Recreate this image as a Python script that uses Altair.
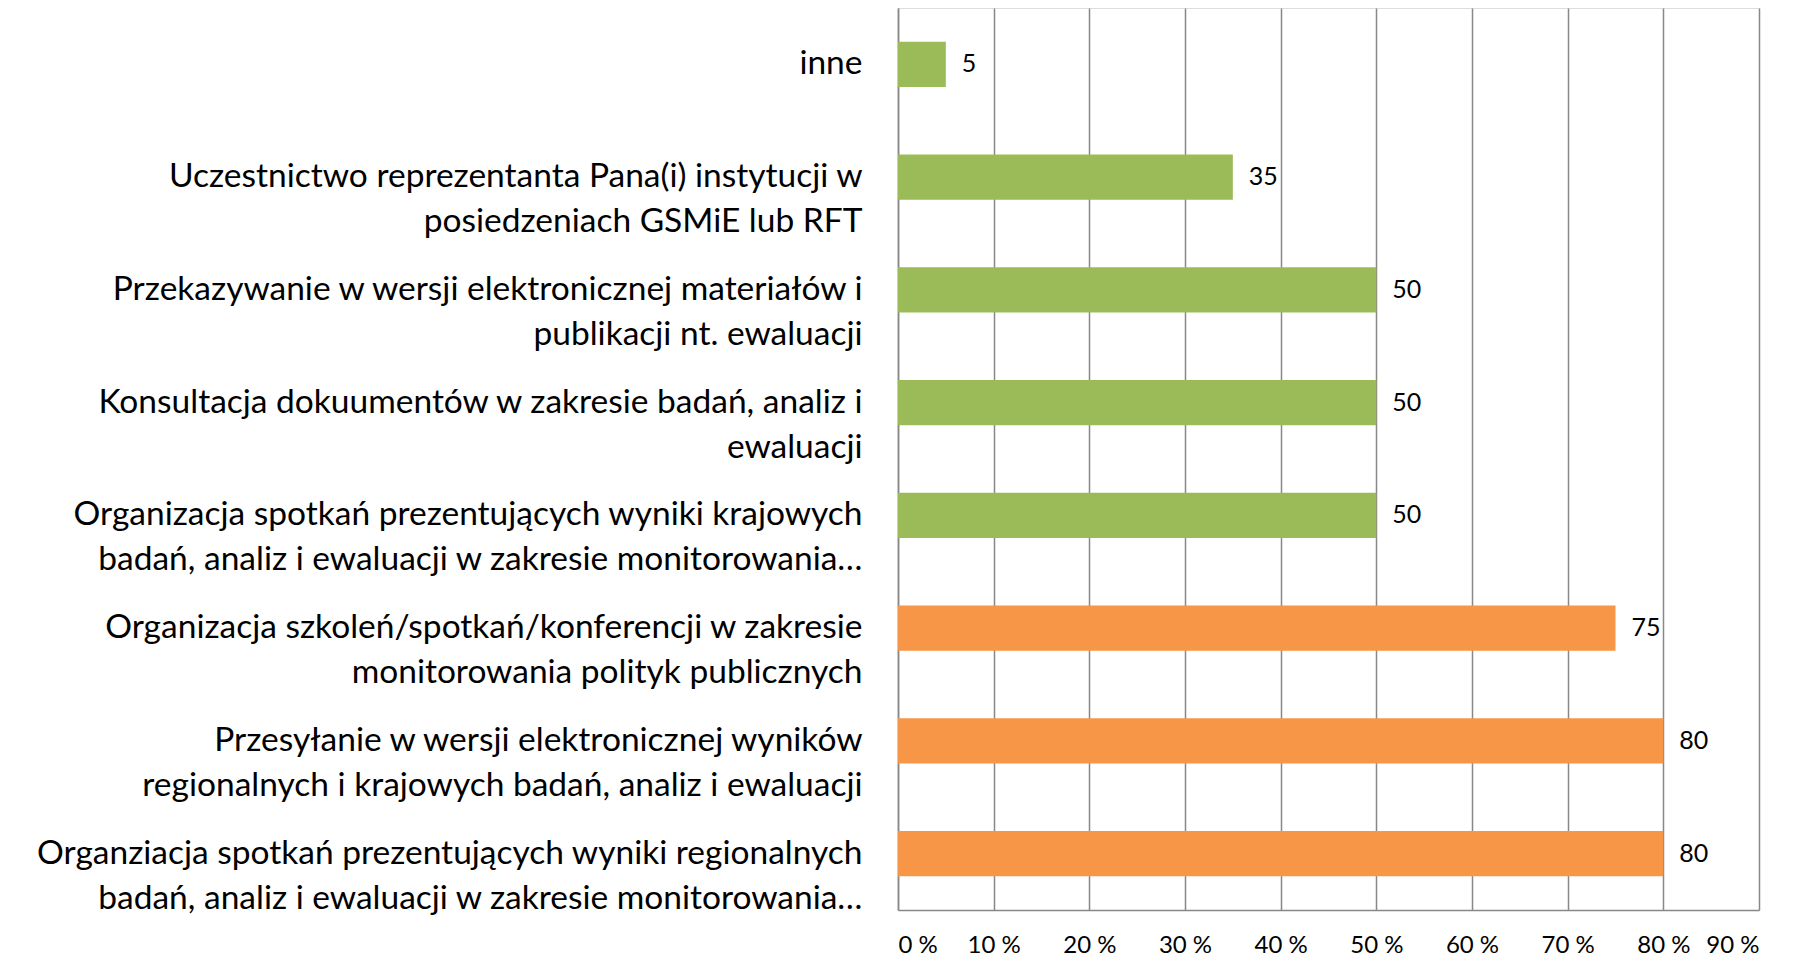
import altair as alt
import pandas as pd

categories = [
    "inne",
    "Uczestnictwo reprezentanta Pana(i) instytucji w|posiedzeniach GSMiE lub RFT",
    "Przekazywanie w wersji elektronicznej materiałów i|publikacji nt. ewaluacji",
    "Konsultacja dokuumentów w zakresie badań, analiz i|ewaluacji",
    "Organizacja spotkań prezentujących wyniki krajowych|badań, analiz i ewaluacji w zakresie monitorowania…",
    "Organizacja szkoleń/spotkań/konferencji w zakresie|monitorowania polityk publicznych",
    "Przesyłanie w wersji elektronicznej wyników|regionalnych i krajowych badań, analiz i ewaluacji",
    "Organziacja spotkań prezentujących wyniki regionalnych|badań, analiz i ewaluacji w zakresie monitorowania…",
]
values = [5, 35, 50, 50, 50, 75, 80, 80]
groups = ["g", "g", "g", "g", "g", "o", "o", "o"]
x_ticks = [0, 10, 20, 30, 40, 50, 60, 70, 80, 90]

df = pd.DataFrame({"cat": categories, "val": values, "grp": groups})

FONT = "Lato"
GRID = "#888888"

base = alt.Chart(df).encode(
    y=alt.Y(
        "cat:N",
        sort=categories,
        scale=alt.Scale(paddingInner=0.6, paddingOuter=0.3),
        axis=alt.Axis(
            title=None,
            labelExpr="split(datum.label, '|')",
            labelFont=FONT,
            labelFontSize=33.5,
            labelColor="#000000",
            labelLineHeight=45,
            labelAlign="right",
            labelBaseline="middle",
            labelPadding=36,
            labelLimit=0,
            ticks=False,
            tickSize=0,
            domain=True,
            domainColor=GRID,
            domainWidth=1.5,
            grid=False,
        ),
    ),
)

bars = base.mark_bar().encode(
    x=alt.X(
        "val:Q",
        scale=alt.Scale(domain=[0, 90], nice=False),
        axis=alt.Axis(
            title=None,
            values=x_ticks,
            labelExpr="datum.value + ' %'",
            labelFont=FONT,
            labelFontSize=24,
            labelColor="#000000",
            labelPadding=23,
            ticks=False,
            tickSize=0,
            grid=True,
            gridColor=GRID,
            gridWidth=1.5,
            domain=True,
            domainColor=GRID,
            domainWidth=1.5,
        ),
    ),
    color=alt.Color(
        "grp:N",
        scale=alt.Scale(domain=["g", "o"], range=["#9BBB59", "#F79646"]),
        legend=None,
    ),
)

labels = base.mark_text(
    align="left", baseline="middle", dx=16, font=FONT, fontSize=25, color="#000000"
).encode(x="val:Q", text="val:Q")

chart = (
    alt.layer(bars, labels)
    .properties(
        width=861,
        height=902,
        autosize=alt.AutoSizeParams(type="none"),
        padding={"left": 890, "top": 0, "right": 20, "bottom": 46},
    )
    .configure_view(stroke=None)
    .configure(background="white")
)

chart.save("out.html", embed_options={"renderer": "svg", "actions": False})
